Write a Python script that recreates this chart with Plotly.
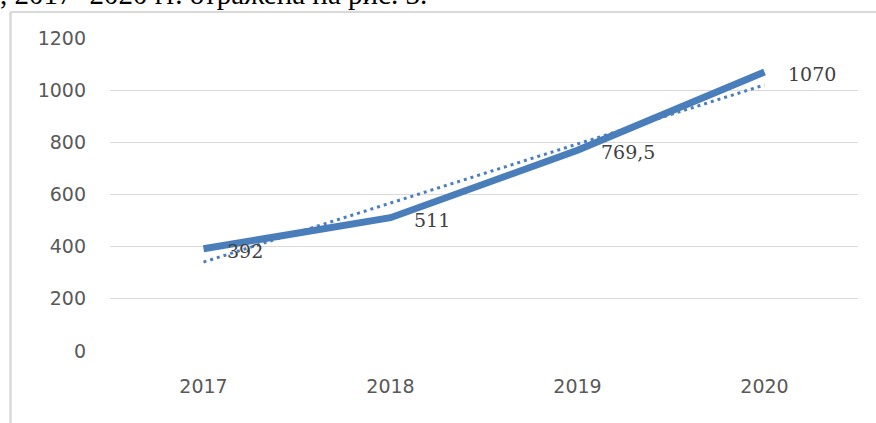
import plotly.graph_objects as go

years = ["2017", "2018", "2019", "2020"]
values = [392, 511, 769.5, 1070]
value_labels = ["392", "511", "769,5", "1070"]
trend_years = ["2017", "2020"]
trend_values = [341, 1020]
y_ticks = [0, 200, 400, 600, 800, 1000, 1200]

W, H = 876, 423
L, R, T, B = 110, 18, 38, 72
PW, PH = W - L - R, H - T - B

def px(x):
    return (x - L) / PW

def py(y):
    return (H - B - y) / PH

fig = go.Figure()
fig.add_trace(go.Scatter(
    x=trend_years, y=trend_values, mode="lines",
    line=dict(color="#4a7ebf", width=3, dash="3px,4px"),
    hoverinfo="skip", showlegend=False))
fig.add_trace(go.Scatter(
    x=years, y=values, mode="lines",
    line=dict(color="#4a7ebb", width=7),
    showlegend=False))

annotations = [
    dict(x=i, y=v, text=lab, xref="x", yref="y", xanchor="left", yanchor="middle",
         xshift=21, yshift=-2, showarrow=False,
         font=dict(family="DejaVu Serif, Liberation Serif, serif", size=19, color="#404040"))
    for i, (v, lab) in enumerate(zip(values, value_labels))
]
annotations.append(
    dict(text=", 2017- 2020 гг. отражена на рис. 3.", xref="paper", yref="paper",
         x=px(-2), y=py(12), xanchor="left", yanchor="bottom", showarrow=False,
         font=dict(family="Liberation Serif, serif", size=29, color="#000000")))

fig.update_layout(
    width=W, height=H,
    margin=dict(l=L, r=R, t=T, b=B),
    paper_bgcolor="white", plot_bgcolor="white",
    xaxis=dict(type="category", categoryorder="array", categoryarray=years,
               range=[-0.5, 3.5], showgrid=False, showline=False,
               zeroline=False, ticks="", ticklabelstandoff=22,
               tickfont=dict(family="DejaVu Sans, sans-serif", size=19, color="#595959")),
    yaxis=dict(range=[0, 1200], tickvals=y_ticks, showgrid=True, gridcolor="#d9d9d9",
               gridwidth=1, zeroline=False, showline=False, ticks="", ticklabelstandoff=23,
               tickfont=dict(family="DejaVu Sans, sans-serif", size=19, color="#595959")),
    shapes=[
        dict(type="line", xref="paper", yref="paper", x0=px(10.5), x1=px(W + 5), y0=py(12), y1=py(12),
             line=dict(color="#d9d9d9", width=2)),
        dict(type="line", xref="paper", yref="paper", x0=px(10.5), x1=px(10.5), y0=py(12), y1=py(H + 5),
             line=dict(color="#d9d9d9", width=2.5)),
    ],
    annotations=annotations,
)

fig.write_html("out.html", config={"displayModeBar": False},
               post_script="document.body.style.margin='0';document.body.style.overflow='hidden';")
